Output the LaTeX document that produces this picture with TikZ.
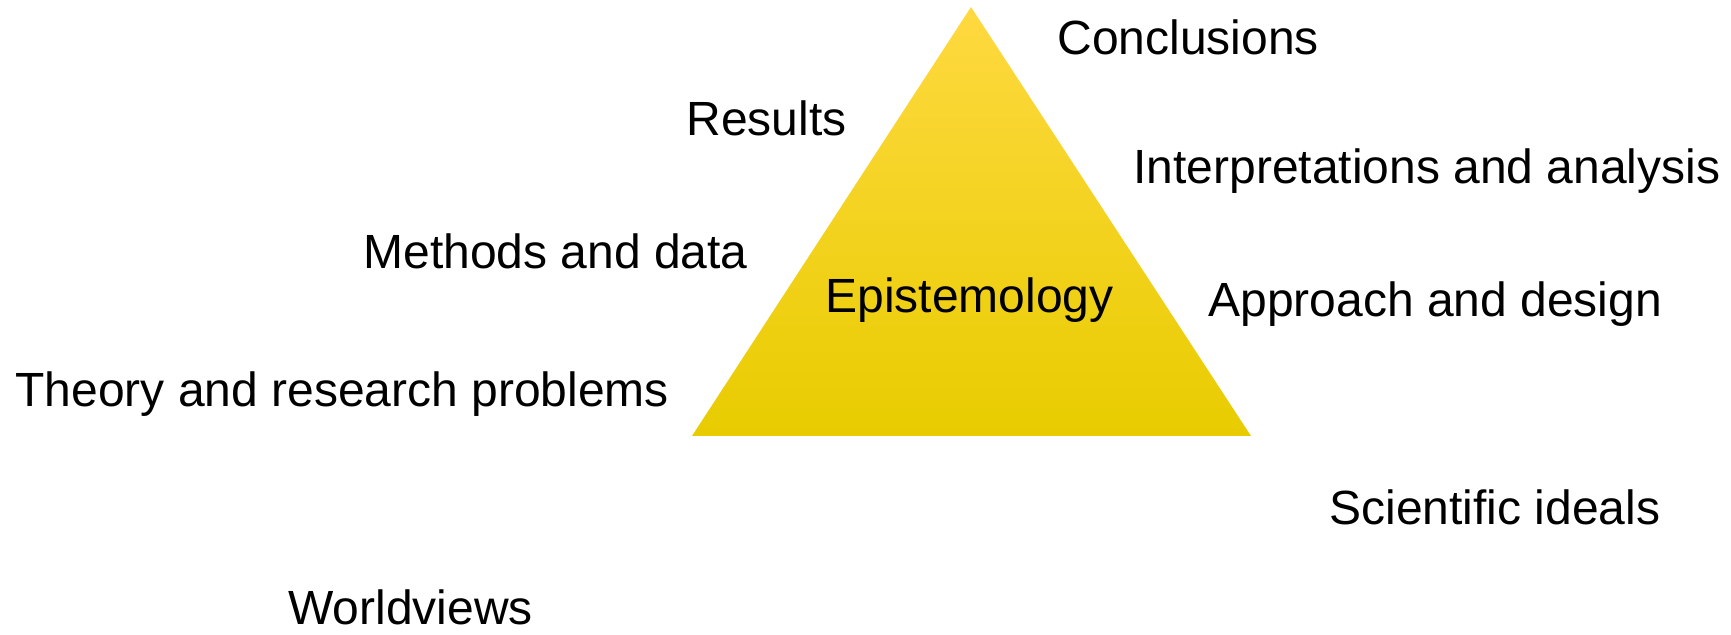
\documentclass[tikz,border=0pt]{standalone}
\usepackage{fontspec}
\setmainfont{Liberation Sans}
\usepackage{tikz}
\usetikzlibrary{positioning,calc}

\definecolor{triTop}{HTML}{FFD940}
\definecolor{triMid}{HTML}{FFDD0F}
\definecolor{triBot}{HTML}{E8CC00}

\tikzset{
  lbl/.style={anchor=base west, inner sep=0pt, font=\fontsize{24}{28}\selectfont},
}

\begin{document}
\begin{tikzpicture}[x=0.5pt, y=-0.5pt]

\useasboundingbox (0,0) rectangle (1731,635);

% triangle
\coordinate (apex) at (971,7);
\coordinate (bl) at (692,436);
\coordinate (br) at (1251,436);
\shade[top color=triTop, middle color=triMid, bottom color=triBot] (apex) -- (br) -- (bl) -- cycle;

% labels
\node[lbl, name=episte] at (825,313) {Epistemology};
\node[lbl, name=concl] at (1057,55) {Conclusions};
\node[lbl, name=results] at (686,136) {Results};
\node[lbl, name=interp] at (1133,184) {Interpretations and analysis};
\node[lbl, name=methods] at (363,269) {Methods and data};
\node[lbl, name=approach] at (1208,317) {Approach and design};
\node[lbl, name=theory] at (15,407) {Theory and research problems};
\node[lbl, name=scient] at (1329,525) {Scientific ideals};
\node[lbl, name=world] at (288,625) {Worldviews};

\end{tikzpicture}
\end{document}
